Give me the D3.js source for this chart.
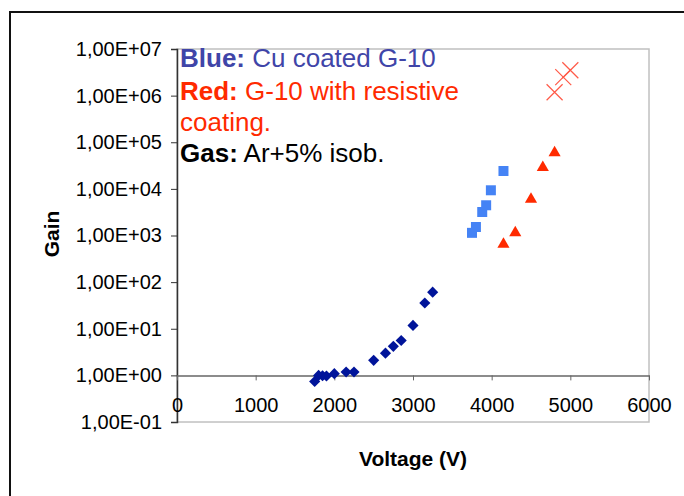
<!DOCTYPE html>
<html>
<head>
<meta charset="utf-8">
<script src="https://cdn.jsdelivr.net/npm/d3@7"></script>
<style>
  body { margin: 0; background: #fff; }
  svg { display: block; font-family: Arial, "Liberation Sans", sans-serif; }
</style>
</head>
<body>
<svg id="chart" width="684" height="496"></svg>
<script>
// data
const diamondVolt = [1750, 1800, 1850, 1900, 2000, 2150, 2250, 2500, 2650, 2750, 2850, 3000, 3150, 3250];
const diamondGain = [0.74, 1.0, 0.98, 0.97, 1.09, 1.18, 1.18, 2.1, 3.0, 4.2, 5.6, 11.8, 35.6, 61];
const squareVolt = [3750, 3800, 3880, 3930, 3990, 4150];
const squareGain = [1140, 1520, 3190, 4450, 9330, 24200];
const triangleVolt = [4150, 4300, 4500, 4650, 4800];
const triangleGain = [647, 1143, 5980, 28600, 59500];
const crossVolt = [4800, 4910, 5000];
const crossGain = [1.18e6, 2.5e6, 3.5e6];

const xTicks = [0, 1000, 2000, 3000, 4000, 5000, 6000];
const yTicks = [1e-1, 1, 1e1, 1e2, 1e3, 1e4, 1e5, 1e6, 1e7];

const svg = d3.select('#chart');
const plotLeft = 177, plotRight = 649, plotTop = 49, plotBottom = 422;

// outer frame (only top and left are visible)
svg.append('path')
  .attr('d', `M10,496 L10,12 L684,12`)
  .attr('fill', 'none')
  .attr('stroke', '#111')
  .attr('stroke-width', 2);

const x = d3.scaleLinear().domain([0, 6000]).range([plotLeft, plotRight]);
const y = d3.scaleLog().domain([0.1, 1e7]).range([plotBottom, plotTop]);

// plot area border
svg.append('rect')
  .attr('x', plotLeft).attr('y', plotTop)
  .attr('width', plotRight - plotLeft).attr('height', plotBottom - plotTop)
  .attr('fill', '#fff')
  .attr('stroke', '#c0c0c0')
  .attr('stroke-width', 1.5);

const fmt = d => {
  const e = Math.round(Math.log10(d));
  return '1,00E' + (e < 0 ? '-' : '+') + String(Math.abs(e)).padStart(2, '0');
};

// y axis
const yAxis = svg.append('g')
  .attr('transform', `translate(${plotLeft},0)`)
  .call(d3.axisLeft(y).tickValues(yTicks).tickFormat(fmt).tickSize(6).tickPadding(9));
yAxis.select('.domain').attr('stroke', '#333').attr('stroke-width', 1.5);
yAxis.selectAll('.tick line').attr('stroke', '#333');
yAxis.selectAll('.tick text').attr('font-size', 20).attr('fill', '#000')
  .attr('font-family', 'Arial, "Liberation Sans", sans-serif');

// x axis crossing at gain = 1
const xAxis = svg.append('g')
  .attr('transform', `translate(0,${y(1)})`)
  .call(d3.axisBottom(x).tickValues(xTicks).tickFormat(d => String(d))
    .tickSize(5).tickSizeOuter(0).tickPadding(17));
xAxis.select('.domain').attr('stroke', '#666').attr('stroke-width', 1.5);
xAxis.selectAll('.tick line').attr('stroke', '#666');
xAxis.selectAll('.tick text').attr('font-size', 20).attr('fill', '#000')
  .attr('font-family', 'Arial, "Liberation Sans", sans-serif');

// axis titles
svg.append('text')
  .attr('x', 413).attr('y', 466)
  .attr('text-anchor', 'middle')
  .attr('font-size', 21).attr('font-weight', 'bold')
  .text('Voltage (V)');

svg.append('text')
  .attr('transform', 'translate(59,234) rotate(-90)')
  .attr('text-anchor', 'middle')
  .attr('font-size', 21).attr('font-weight', 'bold')
  .text('Gain');

// legend text
const legend = [
  { y: 67, color: '#4045a8', bold: 'Blue:', rest: ' Cu coated G-10' },
  { y: 100, color: '#ff2a00', bold: 'Red:', rest: ' G-10 with resistive' },
  { y: 131, color: '#ff2a00', bold: '', rest: 'coating.' },
  { y: 162, color: '#000', bold: 'Gas:', rest: ' Ar+5% isob.' }
];
legend.forEach(l => {
  const t = svg.append('text')
    .attr('x', 180).attr('y', l.y)
    .attr('font-size', 26)
    .attr('fill', l.color)
    .attr('xml:space', 'preserve');
  if (l.bold) t.append('tspan').attr('font-weight', 'bold').text(l.bold);
  t.append('tspan').text(l.rest);
});

// series
const diamonds = diamondVolt.map((v, i) => ({ v, g: diamondGain[i] }));
const squares = squareVolt.map((v, i) => ({ v, g: squareGain[i] }));
const triangles = triangleVolt.map((v, i) => ({ v, g: triangleGain[i] }));
const crosses = crossVolt.map((v, i) => ({ v, g: crossGain[i] }));

svg.append('g').selectAll('path')
  .data(diamonds).enter().append('path')
  .attr('d', d3.symbol(d3.symbolSquare, 62)())
  .attr('transform', d => `translate(${x(d.v)},${y(d.g)}) rotate(45)`)
  .attr('fill', '#00149a');

svg.append('g').selectAll('path')
  .data(squares).enter().append('path')
  .attr('d', d3.symbol(d3.symbolSquare, 100)())
  .attr('transform', d => `translate(${x(d.v)},${y(d.g)})`)
  .attr('fill', '#4583f5');

svg.append('g').selectAll('path')
  .data(triangles).enter().append('path')
  .attr('d', d3.symbol(d3.symbolTriangle, 64)())
  .attr('transform', d => `translate(${x(d.v)},${y(d.g)})`)
  .attr('fill', '#ff2a00');

svg.append('g').selectAll('path')
  .data(crosses).enter().append('path')
  .attr('d', 'M-8,-8L8,8M-8,8L8,-8')
  .attr('transform', d => `translate(${x(d.v)},${y(d.g)})`)
  .attr('fill', 'none')
  .attr('stroke', '#ff5a48')
  .attr('stroke-width', 1.2);
</script>
</body>
</html>
